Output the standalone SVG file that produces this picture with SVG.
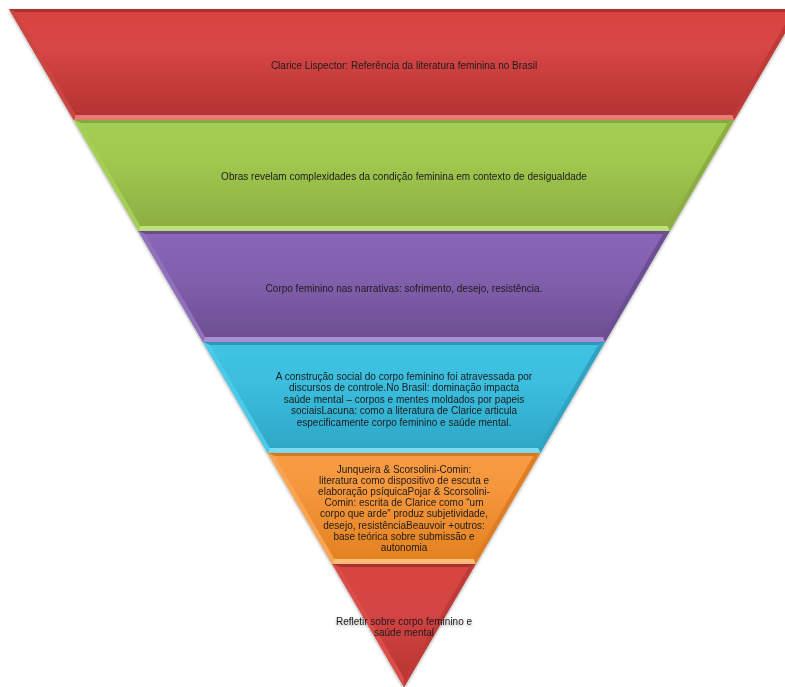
<svg xmlns="http://www.w3.org/2000/svg" width="785" height="687" viewBox="0 0 785 687">
<defs>
<style>
.t{font-family:"Liberation Sans",Arial,sans-serif;font-size:10px;fill:#1c1c1c;text-anchor:middle}
.seg{filter:url(#sh)}
</style>
<filter id="sh" x="-10%" y="-10%" width="120%" height="130%">
<feDropShadow dx="0" dy="1.5" stdDeviation="1.5" flood-color="#000" flood-opacity="0.35"/>
</filter>
<linearGradient id="gR" x1="0" y1="0" x2="0" y2="1"><stop offset="0" stop-color="#d8433f"/><stop offset="0.35" stop-color="#d84646"/><stop offset="1" stop-color="#b23230"/></linearGradient>
<linearGradient id="gG" x1="0" y1="0" x2="0" y2="1"><stop offset="0" stop-color="#a3cd53"/><stop offset="0.35" stop-color="#a0c94f"/><stop offset="1" stop-color="#8cad41"/></linearGradient>
<linearGradient id="gP" x1="0" y1="0" x2="0" y2="1"><stop offset="0" stop-color="#8a67b6"/><stop offset="0.35" stop-color="#8461b0"/><stop offset="1" stop-color="#6c4e91"/></linearGradient>
<linearGradient id="gB" x1="0" y1="0" x2="0" y2="1"><stop offset="0" stop-color="#40c3e2"/><stop offset="0.35" stop-color="#3cbfdf"/><stop offset="1" stop-color="#2ea5c5"/></linearGradient>
<linearGradient id="gO" x1="0" y1="0" x2="0" y2="1"><stop offset="0" stop-color="#f89c44"/><stop offset="0.35" stop-color="#f5963c"/><stop offset="1" stop-color="#e2801f"/></linearGradient>
<linearGradient id="gR2" x1="0" y1="0" x2="0" y2="1"><stop offset="0" stop-color="#d8453f"/><stop offset="0.4" stop-color="#d44444"/><stop offset="1" stop-color="#b53431"/></linearGradient>
</defs>

<g id="connectors"/>

<g id="node1" class="seg">
<polygon points="9,9 799,9 734.3,120 73.7,120" fill="url(#gR)"/>
<polygon points="9,9 799,9 792.3,12 15.7,12" fill="#a83330"/>
<polygon points="9,9 15.7,12 75.7,115 73.7,120" fill="#cc4642"/>
<polygon points="799,9 734.3,120 732.3,115 792.3,12" fill="#c03a37"/>
<polygon points="73.7,120 734.3,120 732.3,115 75.7,115" fill="#ea7a75"/>
<text class="t" x="404" y="68.5">Clarice Lispector: Referência da literatura feminina no Brasil</text>
</g>

<g id="node2" class="seg">
<polygon points="73.7,120 734.3,120 669.7,231 138.3,231" fill="url(#gG)"/>
<polygon points="73.7,120 734.3,120 727.6,123 80.4,123" fill="#86a93d"/>
<polygon points="73.7,120 80.4,123 140.4,226 138.3,231" fill="#a6cf58"/>
<polygon points="734.3,120 669.7,231 667.6,226 727.6,123" fill="#8cad42"/>
<polygon points="138.3,231 669.7,231 667.6,226 140.4,226" fill="#bde27a"/>
<text class="t" x="404" y="179.5">Obras revelam complexidades da condição feminina em contexto de desigualdade</text>
</g>

<g id="node3" class="seg">
<polygon points="138.3,231 669.7,231 605,342 203,342" fill="url(#gP)"/>
<polygon points="138.3,231 669.7,231 662.9,234 145.1,234" fill="#6a4c8e"/>
<polygon points="138.3,231 145.1,234 205.1,337 203,342" fill="#9071bb"/>
<polygon points="669.7,231 605,342 602.9,337 662.9,234" fill="#6c4f92"/>
<polygon points="203,342 605,342 602.9,337 205.1,337" fill="#ab8fd3"/>
<text class="t" x="404" y="291.5">Corpo feminino nas narrativas: sofrimento, desejo, resistência.</text>
</g>

<g id="node4" class="seg">
<polygon points="203,342 605,342 540.3,453 267.7,453" fill="url(#gB)"/>
<polygon points="203,342 605,342 598.2,345 209.8,345" fill="#2c98b5"/>
<polygon points="203,342 209.8,345 269.8,448 267.7,453" fill="#4ccbe8"/>
<polygon points="605,342 540.3,453 538.2,448 598.2,345" fill="#2fa3c2"/>
<polygon points="267.7,453 540.3,453 538.2,448 269.8,448" fill="#7ddcf2"/>
<text class="t" x="404" y="379.5">A construção social do corpo feminino foi atravessada por</text>
<text class="t" x="404" y="391">discursos de controle.No Brasil: dominação impacta</text>
<text class="t" x="404" y="402.5">saúde mental – corpos e mentes moldados por papeis</text>
<text class="t" x="404" y="414">sociaisLacuna: como a literatura de Clarice articula</text>
<text class="t" x="404" y="425.5">especificamente corpo feminino e saúde mental.</text>
</g>

<g id="node5" class="seg">
<polygon points="267.7,453 540.3,453 475.7,564 332.3,564" fill="url(#gO)"/>
<polygon points="267.7,453 540.3,453 533.6,456 274.4,456" fill="#d67a24"/>
<polygon points="267.7,453 274.4,456 334.4,559 332.3,564" fill="#faa552"/>
<polygon points="540.3,453 475.7,564 473.6,559 533.6,456" fill="#de7d22"/>
<polygon points="332.3,564 475.7,564 473.6,559 334.4,559" fill="#fcbd79"/>
<text class="t" x="404" y="472.5">Junqueira &amp; Scorsolini-Comin:</text>
<text class="t" x="404" y="483.7">literatura como dispositivo de escuta e</text>
<text class="t" x="404" y="494.9">elaboração psíquicaPojar &amp; Scorsolini-</text>
<text class="t" x="404" y="506.1">Comin: escrita de Clarice como “um</text>
<text class="t" x="404" y="517.3">corpo que arde” produz subjetividade,</text>
<text class="t" x="404" y="528.5">desejo, resistênciaBeauvoir +outros:</text>
<text class="t" x="404" y="539.7">base teórica sobre submissão e</text>
<text class="t" x="404" y="550.9">autonomia</text>
</g>

<g id="node6" class="seg">
<polygon points="332.3,564 475.7,564 404,687" fill="url(#gR2)"/>
<polygon points="332.3,564 475.7,564 468.9,567 339.1,567" fill="#a83330"/>
<polygon points="332.3,564 339.1,567 404,678 404,687" fill="#dc4e4a"/>
<polygon points="475.7,564 404,687 404,678 468.9,567" fill="#bf3a37"/>
<text class="t" x="404" y="625">Refletir sobre corpo feminino e</text>
<text class="t" x="404" y="636">saúde mental</text>
</g>
</svg>
